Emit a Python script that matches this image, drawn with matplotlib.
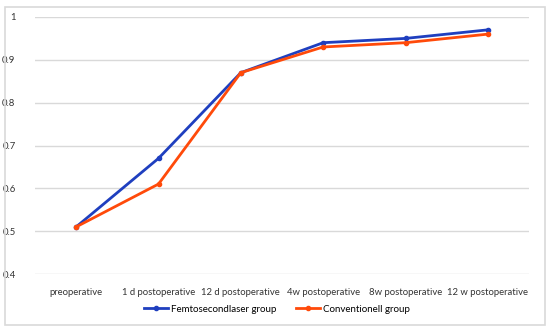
import matplotlib
matplotlib.use('Agg')
import matplotlib.pyplot as plt
import matplotlib.patches as mpatches

categories = ['preoperative', '1 d postoperative', '12 d postoperative',
              '4w postoperative', '8w postoperative', '12 w postoperative']
femto = [0.51, 0.67, 0.87, 0.94, 0.95, 0.97]
conventional = [0.51, 0.61, 0.87, 0.93, 0.94, 0.96]
yticks = [0.4, 0.5, 0.6, 0.7, 0.8, 0.9, 1]
ytick_labels = ['0.4', '0.5', '0.6', '0.7', '0.8', '0.9', '1']

plt.rcParams['font.family'] = ['Lato', 'DejaVu Sans']

fig = plt.figure(figsize=(5.5, 3.32), dpi=100)
fig.patch.set_facecolor('white')
# outer chart border
fig.patches.append(mpatches.Rectangle((5 / 550, 7 / 332), 540 / 550, 318 / 332,
                                      transform=fig.transFigure, fill=False,
                                      edgecolor='#d9d9d9', linewidth=1.2))

ax = fig.add_axes([35 / 550, 1 - 274 / 332, 494 / 550, 257 / 332])
x = list(range(len(categories)))
ax.plot(x, femto, color='#1f3fbf', linewidth=2, marker='o', markersize=3,
        label='Femtosecondlaser group', zorder=3)
ax.plot(x, conventional, color='#ff4a0a', linewidth=2, marker='o', markersize=3,
        label='Conventionell group', zorder=3)

ax.set_xlim(-0.5, len(categories) - 0.5)
ax.set_ylim(0.4, 1.0)
ax.set_yticks(yticks)
ax.set_yticklabels(ytick_labels)
ax.set_xticks(x)
ax.set_xticklabels(categories)
ax.grid(axis='y', color='#d9d9d9', linewidth=1)
ax.set_axisbelow(True)
for s in ax.spines.values():
    s.set_visible(False)
ax.tick_params(axis='both', length=0, labelsize=6.8, colors='#333333', pad=10)
ax.tick_params(axis='y', pad=14)

ax.legend(loc='upper center', bbox_to_anchor=(0.49, -0.085), ncol=2, frameon=False,
          fontsize=7, handlelength=2.5, columnspacing=2, handletextpad=0.3)

fig.savefig('out.png', dpi=100)
